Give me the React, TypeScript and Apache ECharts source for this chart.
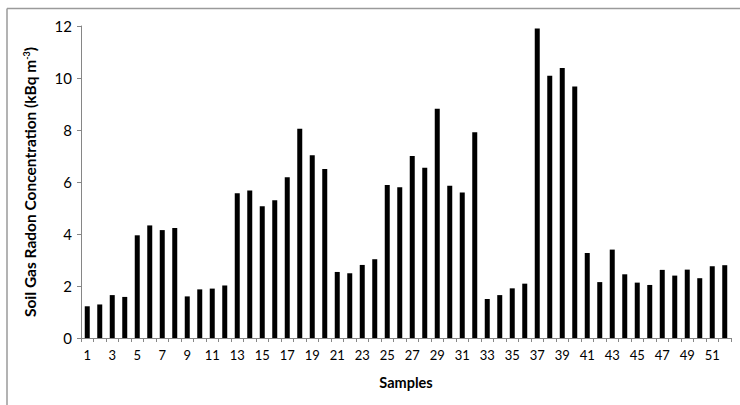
import React, { useEffect, useRef } from "react";
import * as echarts from "echarts";

const categories: string[] = Array.from({ length: 52 }, (_, i) => String(i + 1));
const radonValues: number[] = [
  1.22, 1.29, 1.65, 1.58, 3.95, 4.33, 4.15, 4.23, 1.6, 1.87,
  1.9, 2.02, 5.57, 5.67, 5.07, 5.3, 6.18, 8.05, 7.03, 6.5,
  2.54, 2.49, 2.81, 3.03, 5.88, 5.8, 7.0, 6.55, 8.82, 5.86,
  5.6, 7.91, 1.5, 1.65, 1.91, 2.09, 11.9, 10.09, 10.38, 9.67,
  3.27, 2.15, 3.4, 2.45, 2.13, 2.04, 2.62, 2.4, 2.63, 2.3,
  2.76, 2.8,
];
const yTicks = { min: 0, max: 12, interval: 2 };

const FONT = "Lato, 'Open Sans', sans-serif";

export default function App() {
  const ref = useRef<HTMLDivElement>(null);
  useEffect(() => {
    if (!ref.current) return;
    const chart = echarts.init(ref.current, undefined, { renderer: "svg" });
    chart.setOption({
      animation: false,
      backgroundColor: "#ffffff",
      textStyle: { fontFamily: FONT },
      grid: { left: 81, right: 9, top: 26, bottom: 67, containLabel: false },
      graphic: [
        {
          type: "line",
          shape: { x1: 7, y1: 8.5, x2: 740, y2: 8.5 },
          style: { stroke: "#9a9a9a", lineWidth: 1.5 },
        },
        {
          type: "line",
          shape: { x1: 7, y1: 8.5, x2: 7, y2: 405 },
          style: { stroke: "#9a9a9a", lineWidth: 1.5 },
        },
      ],
      xAxis: {
        type: "category",
        data: categories,
        name: "Samples",
        nameLocation: "middle",
        nameGap: 37,
        nameTextStyle: { fontFamily: FONT, fontSize: 14.5, fontWeight: "bold", color: "#000" },
        axisLine: { show: true, lineStyle: { color: "#868686", width: 1 } },
        axisTick: { show: true, alignWithLabel: false, interval: 0, length: 4, lineStyle: { color: "#868686" } },
        axisLabel: { interval: 1, fontSize: 13, color: "#000", margin: 10, fontFamily: FONT },
        splitLine: { show: false },
      },
      yAxis: {
        type: "value",
        min: yTicks.min,
        max: yTicks.max,
        interval: yTicks.interval,
        name: "Soil Gas Radon Concentration (kBq m{sup|-3})",
        nameLocation: "middle",
        nameRotate: 90,
        nameGap: 43,
        nameTextStyle: {
          fontFamily: FONT,
          fontSize: 15.5,
          fontWeight: "bold",
          color: "#000",
          rich: {
            sup: { fontSize: 9, fontWeight: "bold", fontFamily: FONT, color: "#000", verticalAlign: "top", padding: [0, 0, 7, 0] },
          },
        },
        axisLine: { show: true, lineStyle: { color: "#868686", width: 1 } },
        axisTick: { show: true, length: 4, lineStyle: { color: "#868686" } },
        axisLabel: { fontSize: 15, color: "#000", margin: 9, fontFamily: FONT },
        splitLine: { show: false },
      },
      series: [
        {
          type: "bar",
          data: radonValues,
          barWidth: 5,
          itemStyle: { color: "#000000" },
        },
      ],
    });
    return () => chart.dispose();
  }, []);
  return (
    <div
      ref={ref}
      style={{ position: "fixed", left: 0, top: 0, width: 740, height: 405 }}
    />
  );
}
